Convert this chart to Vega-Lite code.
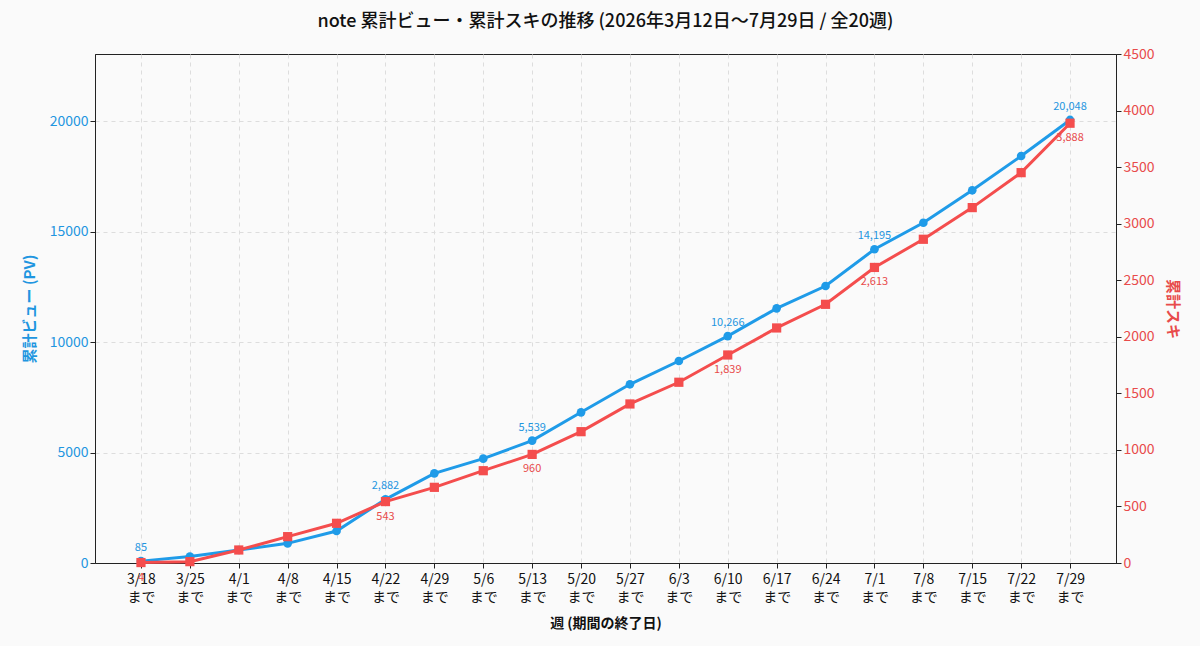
{
  "$schema": "https://vega.github.io/schema/vega-lite/v6.json",
  "autosize": "none",
  "width": 1021,
  "height": 509,
  "padding": {"left": 95, "top": 54, "right": 84, "bottom": 83},
  "background": "#fafafa",
  "title": {
    "text": "note 累計ビュー・累計スキの推移 (2026年3月12日〜7月29日 / 全20週)",
    "font": "Noto Sans CJK JP",
    "fontSize": 18,
    "fontWeight": 500,
    "color": "#111111",
    "anchor": "middle",
    "offset": 16
  },
  "data": {
    "values": [
      {"week": "3/18", "pv": 85, "suki": 4},
      {"week": "3/25", "pv": 290, "suki": 12},
      {"week": "4/1", "pv": 590, "suki": 115},
      {"week": "4/8", "pv": 890, "suki": 233},
      {"week": "4/15", "pv": 1448, "suki": 351},
      {"week": "4/22", "pv": 2882, "suki": 543},
      {"week": "4/29", "pv": 4057, "suki": 669},
      {"week": "5/6", "pv": 4721, "suki": 816},
      {"week": "5/13", "pv": 5539, "suki": 960},
      {"week": "5/20", "pv": 6818, "suki": 1161},
      {"week": "5/27", "pv": 8086, "suki": 1406},
      {"week": "6/3", "pv": 9140, "suki": 1598},
      {"week": "6/10", "pv": 10266, "suki": 1839},
      {"week": "6/17", "pv": 11524, "suki": 2078},
      {"week": "6/24", "pv": 12534, "suki": 2287},
      {"week": "7/1", "pv": 14195, "suki": 2613},
      {"week": "7/8", "pv": 15398, "suki": 2862},
      {"week": "7/15", "pv": 16864, "suki": 3142},
      {"week": "7/22", "pv": 18416, "suki": 3451},
      {"week": "7/29", "pv": 20048, "suki": 3888}
    ]
  },
  "encoding": {
    "x": {
      "field": "week",
      "type": "ordinal",
      "sort": null,
      "scale": {"type": "point", "padding": 0.94},
      "title": "週 (期間の終了日)",
      "axis": {
        "labelAngle": 0,
        "labelExpr": "[datum.label, 'まで']",
        "labelLineHeight": 18,
        "labelFontSize": 14,
        "labelColor": "#111111",
        "labelPadding": 4,
        "titleFontSize": 14,
        "titleFontWeight": "bold",
        "titleColor": "#111111",
        "titlePadding": 12,
        "grid": true,
        "gridDash": [4, 4],
        "gridColor": "#dddddd",
        "tickColor": "#222222",
        "domainColor": "#222222"
      }
    }
  },
  "layer": [
    {
      "encoding": {
        "y": {
          "field": "pv",
          "type": "quantitative",
          "scale": {"domain": [0, 23032], "nice": false},
          "title": "累計ビュー (PV)",
          "axis": {
            "orient": "left",
            "values": [0, 5000, 10000, 15000, 20000],
            "format": "d",
            "labelColor": "#1f96e0",
            "labelFontSize": 14,
            "titleColor": "#1f96e0",
            "titleFontSize": 15,
            "titleFontWeight": "bold",
            "titlePadding": 12,
            "grid": true,
            "gridDash": [4, 4],
            "gridColor": "#dddddd",
            "tickColor": "#222222",
            "domainColor": "#222222"
          }
        }
      },
      "layer": [
        {
          "mark": {
            "type": "line",
            "color": "#1f9be8",
            "strokeWidth": 3,
            "point": {"filled": true, "size": 75, "color": "#1f9be8", "opacity": 1}
          }
        },
        {
          "transform": [{"filter": "indexof(['3/18','4/22','5/13','6/10','7/1','7/29'], datum.week) >= 0"}],
          "mark": {"type": "text", "dy": -13, "fontSize": 11, "color": "#1f96e0", "font": "Noto Sans CJK JP"},
          "encoding": {"text": {"field": "pv", "type": "quantitative", "format": ","}}
        }
      ]
    },
    {
      "encoding": {
        "y": {
          "field": "suki",
          "type": "quantitative",
          "scale": {"domain": [0, 4500], "nice": false},
          "title": "累計スキ",
          "axis": {
            "orient": "right",
            "values": [0, 500, 1000, 1500, 2000, 2500, 3000, 3500, 4000, 4500],
            "format": "d",
            "labelColor": "#e84b4b",
            "labelFontSize": 14,
            "titleColor": "#e84b4b",
            "titleFontSize": 15,
            "titleFontWeight": "bold",
            "titlePadding": 10,
            "grid": false,
            "tickColor": "#222222",
            "domainColor": "#222222"
          }
        }
      },
      "layer": [
        {
          "mark": {
            "type": "line",
            "color": "#f44d4d",
            "strokeWidth": 3,
            "point": {"filled": true, "size": 85, "shape": "square", "color": "#f44d4d", "opacity": 1}
          }
        },
        {
          "transform": [{"filter": "indexof(['3/18','4/22','5/13','6/10','7/1','7/29'], datum.week) >= 0"}],
          "mark": {"type": "text", "dy": 15, "fontSize": 11, "color": "#e84b4b", "font": "Noto Sans CJK JP"},
          "encoding": {"text": {"field": "suki", "type": "quantitative", "format": ","}}
        }
      ]
    }
  ],
  "resolve": {"scale": {"y": "independent"}},
  "config": {
    "font": "Noto Sans CJK JP",
    "view": {"stroke": "#222222", "strokeWidth": 1, "fill": "#fafafa"},
    "axis": {"labelFont": "Noto Sans CJK JP", "titleFont": "Noto Sans CJK JP", "tickSize": 5}
  }
}
